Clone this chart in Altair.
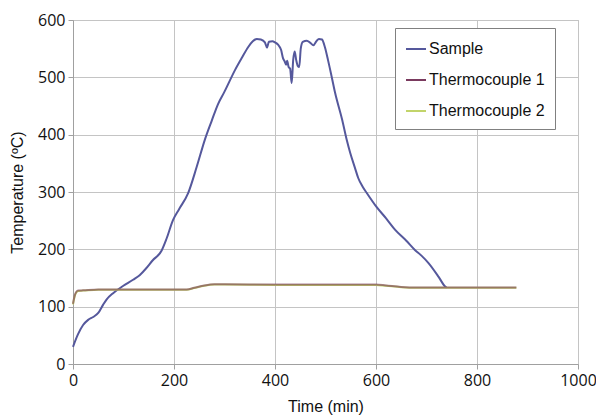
import altair as alt
import pandas as pd

# Sample temperature curve
sample_t = [0, 10, 20, 30, 40, 50, 60, 66, 80, 99, 119, 132, 145, 158, 175, 185, 198, 210,
            228, 245, 261, 275, 287, 300, 321, 335, 347, 356, 364, 372, 380, 384, 388, 395,
            400, 406, 412, 416, 419, 422, 424, 427, 430, 433, 436, 439, 442, 445, 448, 451,
            455, 463, 470, 476, 482, 487, 493, 499, 505, 512, 519, 533, 542, 549, 558, 565,
            573, 582, 601, 620, 638, 660, 677, 690, 704, 724, 737, 740]
sample_T = [30, 52, 68, 77, 82, 89, 104, 112, 124, 136, 147, 155, 167, 181, 197, 218, 251, 270,
            298, 344, 391, 425, 453, 475, 513, 535, 553, 563, 567, 566, 561, 552, 562, 563,
            561, 557, 548, 533, 528, 522, 529, 518, 515, 490, 530, 545, 530, 520, 518, 550,
            562, 564, 560, 556, 563, 567, 566, 552, 530, 502, 473, 426, 391, 368, 343, 324,
            310, 298, 274, 254, 234, 215, 199, 189, 176, 152, 135, 133]

# Thermocouples
tc_t = [0, 3, 6, 10, 20, 50, 100, 150, 200, 225, 240, 260, 280, 300, 400, 500, 600, 620,
        650, 680, 750, 800, 878]
tc1_T = [105, 118, 125, 128, 128.5, 130, 130, 130, 130, 130, 133, 137, 139, 139, 138.5, 138.5,
         138.5, 137, 134.5, 133.5, 133.5, 133.5, 133.5]
tc2_T = [104, 117, 124, 127.5, 128, 129.5, 129.5, 129.5, 129.5, 129.5, 132.5, 136.5, 138.5,
         138.5, 138, 138, 138, 136.5, 134, 133, 133, 133, 133]

series = ["Sample", "Thermocouple 1", "Thermocouple 2"]
colors = ["#55589c", "#7a3a5e", "#c2d46a"]

df = pd.concat([
    pd.DataFrame({"t": sample_t, "T": sample_T, "s": "Sample"}),
    pd.DataFrame({"t": tc_t, "T": tc2_T, "s": "Thermocouple 2"}),
    pd.DataFrame({"t": tc_t, "T": tc1_T, "s": "Thermocouple 1"}),
])

base = alt.Chart(df)

lines = base.mark_line(strokeWidth=2, interpolate="monotone").encode(
    x=alt.X("t:Q", scale=alt.Scale(domain=[0, 1000], nice=False),
            axis=alt.Axis(values=[0, 200, 400, 600, 800, 1000], format="d",
                          labelFlush=False, title="Time  (min)")),
    y=alt.Y("T:Q", scale=alt.Scale(domain=[0, 600], nice=False),
            axis=alt.Axis(values=[0, 100, 200, 300, 400, 500, 600], format="d",
                          title="Temperature (ºC)")),
    color=alt.Color("s:N", scale=alt.Scale(domain=series, range=colors),
                    legend=alt.Legend(title=None, orient="none", legendX=322, legendY=8,
                                      symbolType="stroke", symbolSize=400,
                                      symbolStrokeWidth=2, labelFontSize=16,
                                      labelFont="Liberation Sans", labelColor="#111111",
                                      labelOffset=2, rowPadding=12, padding=10,
                                      strokeColor="#808080", fillColor="white",
                                      labelLimit=300)),
    detail="s:N",
    opacity=alt.condition(alt.datum.s == "Thermocouple 1", alt.value(0.6), alt.value(1)),
)

chart = lines.properties(
    width=505, height=344,
    autosize=alt.AutoSizeParams(type="none"),
    padding={"left": 65, "top": 12, "right": 18, "bottom": 58},
).configure_view(
    stroke="#b8b8b8", strokeWidth=1
).configure_axis(
    grid=True, gridColor="#c4c4c4", gridWidth=1,
    domainColor="#a0a0a0", tickColor="#a0a0a0", tickSize=5,
    labelFont="Open Sans", labelFontSize=16, labelColor="#111111",
    titleFont="Liberation Sans", titleFontSize=16, titleColor="#111111",
    titleFontWeight="normal",
).configure_axisX(
    labelPadding=3, titlePadding=10
).configure_axisY(
    labelPadding=3, titlePadding=12
)

chart.save("out.html", embed_options={"renderer": "svg", "actions": False})
